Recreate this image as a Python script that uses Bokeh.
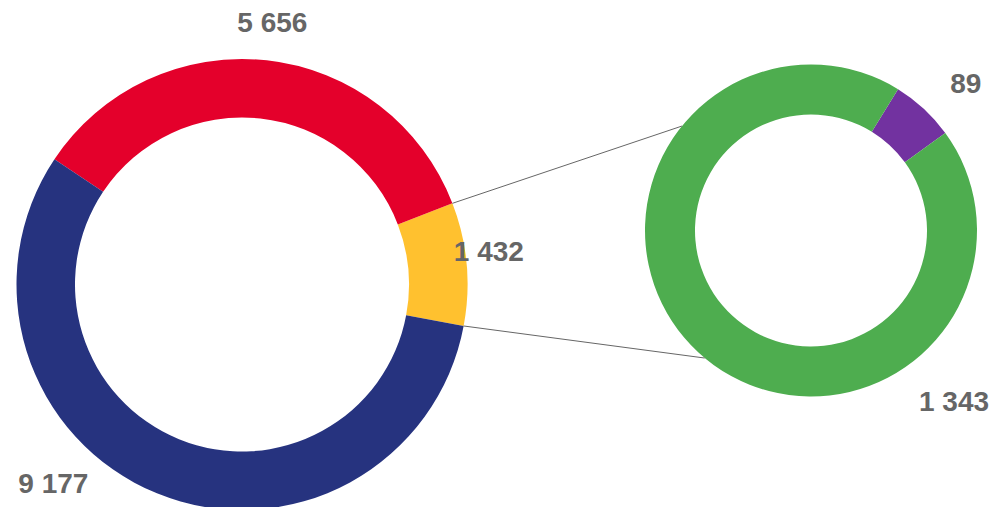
import math
from bokeh.plotting import figure
from bokeh.models import Range1d, ColumnDataSource
from bokeh.core.properties import value
from bokeh.embed import file_html
from bokeh.resources import INLINE

# ---- data ----
main_labels = ["1 432", "5 656", "9 177"]
main_values = [1432, 5656, 9177]
main_colors = ["#FFC12F", "#E4002B", "#26337F"]

sub_labels = ["89", "1 343"]
sub_values = [89, 1343]
sub_colors = ["#7232A0", "#4EAD4F"]

# ---- layout / style ----
W, H = 989, 507
OFF = 0


def px(x, y):
    """image pixel -> data coords"""
    return x - OFF, (H + OFF) - y


L_CX, L_CY = px(241.5, 284)
L_R, L_r = 225.5, 167
L_START = -10.6

R_CX, R_CY = px(810.5, 230)
R_R, R_r = 166, 116
R_START = 36.0

# label placement (angle deg, distance px) per wedge
main_lab_ang = [7.6, 83.4, 226.5]
main_lab_dist = [249, 264, 274]
sub_lab_ang = [43.5, 309.9]
sub_lab_dist = [213.5, 223]

# connector target angles on the right donut
conn_ang_top, conn_ang_bot = 141.0, 230.2

p = figure(width=W, height=H, output_backend="svg", toolbar_location=None,
           x_range=Range1d(0, W), y_range=Range1d(0, H), min_border=0)
p.axis.visible = False
p.grid.visible = False
p.outline_line_color = None
p.background_fill_color = "white"
p.border_fill_color = "white"


def wedges(values, start_deg):
    tot = float(sum(values))
    starts, ends = [], []
    a = math.radians(start_deg)
    for v in values:
        starts.append(a)
        a += 2 * math.pi * v / tot
        ends.append(a)
    return starts, ends


ls, le = wedges(main_values, L_START)
src_l = ColumnDataSource(dict(start=ls, end=le, color=main_colors))
p.annular_wedge(x=L_CX, y=L_CY, inner_radius=L_r, outer_radius=L_R,
                start_angle="start", end_angle="end", color="color",
                line_color=None, source=src_l)

rs, re_ = wedges(sub_values, R_START)
src_r = ColumnDataSource(dict(start=rs, end=re_, color=sub_colors))
p.annular_wedge(x=R_CX, y=R_CY, inner_radius=R_r, outer_radius=R_R,
                start_angle="start", end_angle="end", color="color",
                line_color=None, source=src_r)

# connectors from the yellow wedge's edges to the right donut
a_top = le[0]
a_bot = ls[0]
x0 = L_CX + L_R * math.cos(a_top)
y0 = L_CY + L_R * math.sin(a_top)
x1 = R_CX + R_R * math.cos(math.radians(conn_ang_top))
y1 = R_CY + R_R * math.sin(math.radians(conn_ang_top))
x2 = L_CX + L_R * math.cos(a_bot)
y2 = L_CY + L_R * math.sin(a_bot)
x3 = R_CX + R_R * math.cos(math.radians(conn_ang_bot))
y3 = R_CY + R_R * math.sin(math.radians(conn_ang_bot))
p.segment(x0=[x0, x2], y0=[y0, y2], x1=[x1, x3], y1=[y1, y3],
          line_color="#666666", line_width=1)

# labels
tx, ty, tt = [], [], []
for lab, ang, d in zip(main_labels, main_lab_ang, main_lab_dist):
    tx.append(L_CX + d * math.cos(math.radians(ang)))
    ty.append(L_CY + d * math.sin(math.radians(ang)))
    tt.append(lab)
for lab, ang, d in zip(sub_labels, sub_lab_ang, sub_lab_dist):
    tx.append(R_CX + d * math.cos(math.radians(ang)))
    ty.append(R_CY + d * math.sin(math.radians(ang)))
    tt.append(lab)

p.text(x=tx, y=ty, text=tt, text_align="center", text_baseline="middle",
       text_font=value("Liberation Sans"), text_font_style="bold",
       text_font_size="28px", text_color="#666666")

open("out.html", "w").write(file_html(p, INLINE))
